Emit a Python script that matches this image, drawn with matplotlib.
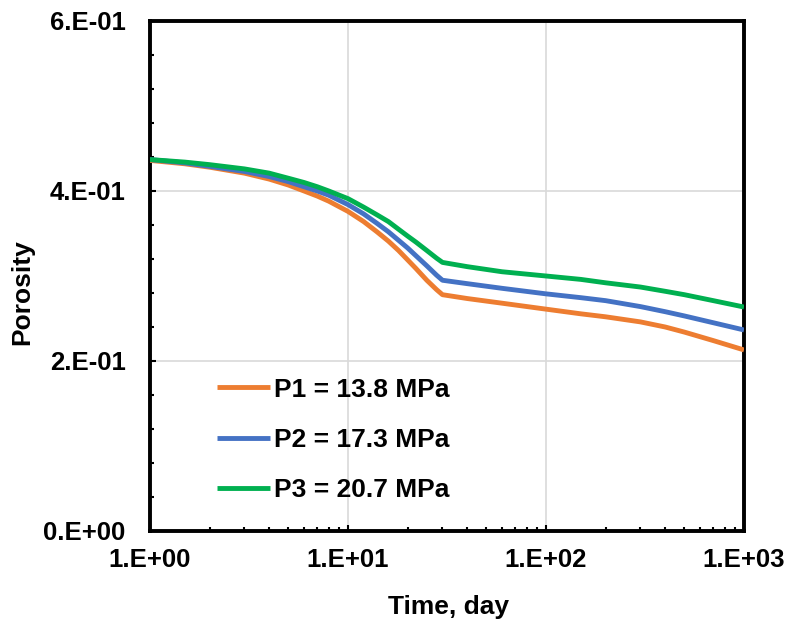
import matplotlib
matplotlib.use("Agg")
import matplotlib.pyplot as plt
from matplotlib.ticker import FixedLocator, FuncFormatter, LogLocator, NullFormatter

time_days = [1, 1.5, 2, 3, 4, 5, 6, 7, 8, 10, 12, 14, 16, 18, 20, 22, 25, 28, 30,
             40, 60, 100, 150, 200, 300, 400, 500, 700, 1000]
p1_porosity = [0.436, 0.432, 0.428, 0.421, 0.414, 0.407, 0.400, 0.394, 0.388, 0.376, 0.364, 0.352,
               0.341, 0.330, 0.319, 0.309, 0.295, 0.284, 0.278,
               0.2735, 0.268, 0.261, 0.2555, 0.252, 0.246, 0.240, 0.234, 0.224, 0.213]
p2_porosity = [0.437, 0.433, 0.429, 0.423, 0.417, 0.411, 0.405, 0.400, 0.395, 0.384, 0.373, 0.362,
               0.352, 0.342, 0.333, 0.324, 0.312, 0.301, 0.295,
               0.291, 0.2855, 0.279, 0.2745, 0.271, 0.264, 0.258, 0.253, 0.245, 0.2365]
p3_porosity = [0.437, 0.434, 0.431, 0.426, 0.421, 0.415, 0.410, 0.405, 0.400, 0.391, 0.381, 0.372,
               0.364, 0.355, 0.347, 0.340, 0.330, 0.321, 0.316,
               0.311, 0.305, 0.300, 0.296, 0.292, 0.287, 0.282, 0.278, 0.271, 0.2635]
series_labels = ["P1 = 13.8 MPa", "P2 = 17.3 MPa", "P3 = 20.7 MPa"]
series_colors = ["#ED7D31", "#4472C4", "#00B050"]
x_ticks = [1, 10, 100, 1000]
y_ticks = [0.0, 0.2, 0.4, 0.6]

plt.rcParams['font.family'] = ['Liberation Sans', 'DejaVu Sans']
plt.rcParams['font.weight'] = 'bold'

W, H = 791, 624
fig = plt.figure(figsize=(W / 100, H / 100), dpi=100)
L, R, B, T = 150, 744, 531, 21
ax = fig.add_axes([L / W, (H - B) / H, (R - L) / W, (B - T) / H])

for ys, lab, col in zip([p1_porosity, p2_porosity, p3_porosity], series_labels, series_colors):
    ax.plot(time_days, ys, color=col, lw=3.5, label=lab, solid_capstyle='butt',
            solid_joinstyle='round', zorder=3)

ax.set_xscale('log')
ax.set_xlim(1, 1000)
ax.set_ylim(0, 0.6)

def sci(v, pos):
    s = f"{v:.0E}"
    m, e = s.split("E")
    return f"{m}.E{e}"

ax.xaxis.set_major_locator(FixedLocator(x_ticks))
ax.xaxis.set_major_formatter(FuncFormatter(sci))
ax.xaxis.set_minor_locator(LogLocator(base=10, subs=range(2, 10)))
ax.xaxis.set_minor_formatter(NullFormatter())
ax.yaxis.set_major_locator(FixedLocator(y_ticks))
ax.yaxis.set_major_formatter(FuncFormatter(sci))
ax.yaxis.set_minor_locator(FixedLocator([i * 0.04 for i in range(16) if i % 5 != 0]))

ax.grid(True, which='major', color='#D9D9D9', lw=1.2, zorder=0)
ax.set_axisbelow(True)

for sp in ax.spines.values():
    sp.set_linewidth(2.8)
    sp.set_color('black')

ax.tick_params(which='major', direction='in', length=4, width=1.5, labelsize=18.5)
ax.tick_params(axis='y', which='major', pad=17.5)
ax.tick_params(axis='x', which='major', pad=12)
ax.tick_params(which='minor', direction='in', length=3, width=1.5)

ax.set_xlabel('Time, day', fontsize=19, fontweight='bold', va='center')
ax.xaxis.set_label_coords((448 - L) / (R - L), (B - 607) / (B - T))
ax.set_ylabel('Porosity', fontsize=19, fontweight='bold', va='center')
ax.yaxis.set_label_coords((22 - L) / (R - L), (B - 292) / (B - T))

leg = ax.legend(loc='center left', bbox_to_anchor=((217 - L) / (R - L), (B - 440) / (B - T)),
                frameon=False, fontsize=19, handlelength=2.0, handletextpad=0.15,
                labelspacing=1.0, borderpad=0, borderaxespad=0)
for h in leg.get_lines():
    h.set_linewidth(3.5)

fig.savefig('out.png', dpi=100)
